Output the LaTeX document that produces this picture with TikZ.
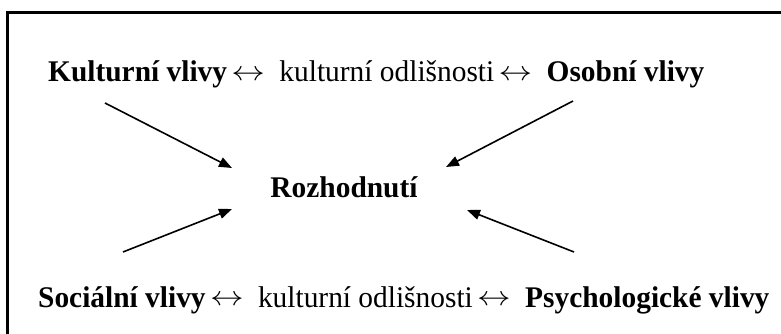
\documentclass[tikz,border=0pt]{standalone}
\usepackage{fontspec}
\setmainfont{Liberation Serif}[FakeStretch=0.98]
\usetikzlibrary{arrows.meta}
\newcommand{\lrarr}{\raisebox{0.05em}{\scalebox{1.35}[1.1]{$\leftrightarrow$}}}
\begin{document}
\begin{tikzpicture}[x=1pt,y=-1pt,
  lbl/.style={inner sep=0pt,anchor=base west,font=\fontsize{30}{36}\selectfont},
  blbl/.style={lbl,font=\fontsize{30}{36}\selectfont\bfseries},
  infl/.style={line width=1.6pt,-{Triangle[length=13pt,width=10pt]}},
  frame/.style={line width=3pt}]
\useasboundingbox (0,0) rectangle (781,334);
\draw[frame] (781,13) -- (7,13) -- (7,334);
% top row
\node[blbl] (kv) at (48,82) {Kulturní vlivy};
\node[lbl] (a1) at ([xshift=4pt]kv.base east) {\lrarr};
\node[lbl] (ko1) at ([xshift=14pt]a1.base east) {kulturní odlišnosti};
\node[lbl] (a2) at ([xshift=4pt]ko1.base east) {\lrarr};
\node[blbl] (ov) at ([xshift=14pt]a2.base east) {Osobní vlivy};
% centre
\node[inner sep=0pt,anchor=base,font=\fontsize{30}{36}\selectfont\bfseries] (roz) at (344,197) {Rozhodnutí};
% bottom row
\node[blbl] (sv) at (38,307) {Sociální vlivy};
\node[lbl] (b1) at ([xshift=4pt]sv.base east) {\lrarr};
\node[lbl] (ko2) at ([xshift=14pt]b1.base east) {kulturní odlišnosti};
\node[lbl] (b2) at ([xshift=4pt]ko2.base east) {\lrarr};
\node[blbl] (pv) at ([xshift=14pt]b2.base east) {Psychologické vlivy};
% arrows
\coordinate (tls) at (105,103); \coordinate (tle) at (232,168);
\coordinate (trs) at (573,101); \coordinate (tre) at (446,167);
\coordinate (bls) at (123,252); \coordinate (ble) at (232,209);
\coordinate (brs) at (574,252); \coordinate (bre) at (467,210);
\draw[infl] (tls) -- (tle);
\draw[infl] (trs) -- (tre);
\draw[infl] (bls) -- (ble);
\draw[infl] (brs) -- (bre);
\end{tikzpicture}
\end{document}
